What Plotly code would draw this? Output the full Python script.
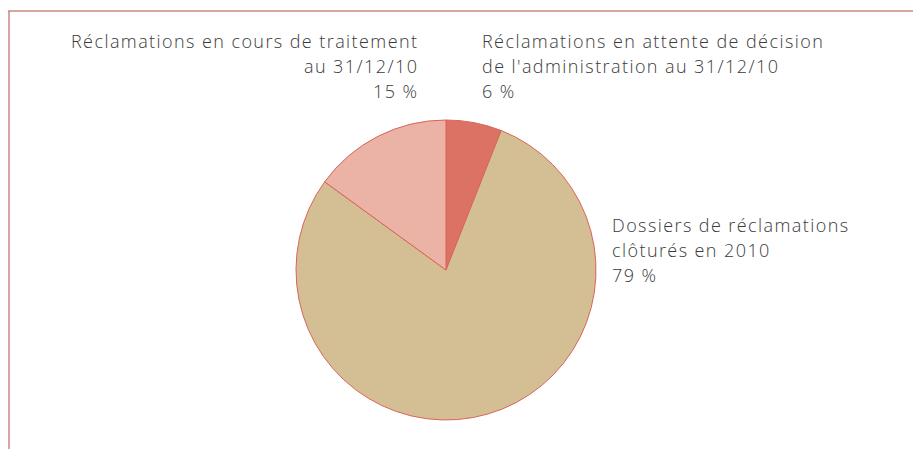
import plotly.graph_objects as go

categories = [
    "Réclamations en attente de décision<br>de l'administration au 31/12/10",
    "Dossiers de réclamations<br>clôturés en 2010",
    "Réclamations en cours de traitement<br>au 31/12/10",
]
values = [6, 79, 15]
colors = ["#dc7263", "#d4bf94", "#ebb3a5"]

# page body has an 8px margin; work in figure coordinates
OFF = 8
W, H = 921 - OFF, 449 - OFF
cx, cy, r = 446 - OFF, 270 - OFF, 150

fig = go.Figure()
fig.add_trace(go.Pie(
    labels=categories, values=values, sort=False, direction="clockwise", rotation=0,
    marker=dict(colors=colors, line=dict(color="#d9645a", width=1)),
    textinfo="none", hoverinfo="label+percent", showlegend=False,
    domain=dict(x=[(cx - r) / W, (cx + r) / W], y=[(H - cy - r) / H, (H - cy + r) / H]),
))

font = dict(family="Open Sans, Liberation Sans, sans-serif", size=18, color="#3a3a3a", weight=300)
LINE = 25.2
label_pos = [(481, 41, "left"), (611, 225, "left"), (419, 41, "right")]
for cat, v, (x, y, al) in zip(categories, values, label_pos):
    lines = f"{cat}<br>{v} %".split("<br>")
    for i, ln in enumerate(lines):
        fig.add_annotation(
            x=(x - OFF) / W, y=1 - (y + i * LINE - OFF) / H, xref="paper", yref="paper",
            text=f'<span style="letter-spacing:1.42px">{ln}</span>', showarrow=False,
            align=al, xanchor=al, yanchor="middle", font=font, borderpad=0,
        )

fig.add_shape(type="line", xref="paper", yref="paper",
              x0=0, y0=1 - (11 - OFF) / H, x1=1, y1=1 - (11 - OFF) / H,
              line=dict(color="#c98a80", width=1.5))
fig.add_shape(type="line", xref="paper", yref="paper",
              x0=1 / W, y0=1 - (11 - OFF) / H, x1=1 / W, y1=0,
              line=dict(color="#c98a80", width=1.5))

fig.update_layout(width=W, height=H, margin=dict(l=0, r=0, t=0, b=0),
                  paper_bgcolor="white", plot_bgcolor="white")
fig.write_html("out.html")
